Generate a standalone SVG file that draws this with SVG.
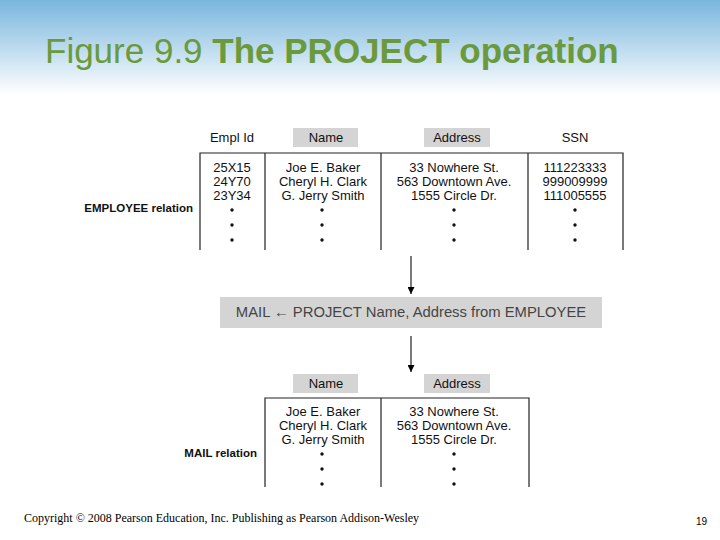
<svg xmlns="http://www.w3.org/2000/svg" width="720" height="540" viewBox="0 0 720 540">
<defs>
<linearGradient id="bg" x1="0" y1="0" x2="0" y2="1"><stop offset="0" stop-color="#79b6dd"/><stop offset="1" stop-color="#ffffff"/></linearGradient>
<marker id="ah" viewBox="0 0 10 10" refX="10" refY="5" markerWidth="7" markerHeight="7" orient="auto" markerUnits="userSpaceOnUse"><path d="M0,0 L10,5 L0,10 z" fill="#000"/></marker>
<style>
.t{font-family:"Liberation Sans",Arial,sans-serif;font-size:13px;fill:#111;text-anchor:middle}
.lb{font-family:"Liberation Sans",Arial,sans-serif;font-size:11.5px;font-weight:bold;fill:#111;text-anchor:end}
.hb{fill:#d4d4d4}
.ln{stroke:#222;stroke-width:1.2;fill:none}
.dot{fill:#111}
</style>
</defs>
<rect width="720" height="540" fill="#fff"/>
<rect width="720" height="95" fill="url(#bg)"/>
<text x="45" y="63" font-family="Liberation Sans,Arial,sans-serif" font-size="35" fill="#6a9a3c">Figure 9.9  <tspan font-weight="bold">The PROJECT operation</tspan></text>
<g id="employee">
<rect class="hb" x="293" y="128" width="65" height="19"/>
<rect class="hb" x="424" y="128" width="66" height="19"/>
<text class="t" x="232" y="142">Empl Id</text>
<text class="t" x="326" y="142">Name</text>
<text class="t" x="457" y="142">Address</text>
<text class="t" x="575" y="142">SSN</text>
<path class="ln" d="M200,250 V153 H623 V250 M265,153 V250 M381,153 V250 M528,153 V250"/>
<text class="t" x="232" y="172">25X15</text><text class="t" x="232" y="186">24Y70</text><text class="t" x="232" y="200">23Y34</text>
<text class="t" x="323" y="172">Joe E. Baker</text><text class="t" x="323" y="186">Cheryl H. Clark</text><text class="t" x="323" y="200">G. Jerry Smith</text>
<text class="t" x="454" y="172">33 Nowhere St.</text><text class="t" x="454" y="186">563 Downtown Ave.</text><text class="t" x="454" y="200">1555 Circle Dr.</text>
<text class="t" x="575" y="172">111223333</text><text class="t" x="575" y="186">999009999</text><text class="t" x="575" y="200">111005555</text>
<g class="dot">
<circle cx="232" cy="210" r="1.7"/><circle cx="232" cy="225" r="1.7"/><circle cx="232" cy="240" r="1.7"/>
<circle cx="322" cy="210" r="1.7"/><circle cx="322" cy="225" r="1.7"/><circle cx="322" cy="240" r="1.7"/>
<circle cx="454" cy="210" r="1.7"/><circle cx="454" cy="225" r="1.7"/><circle cx="454" cy="240" r="1.7"/>
<circle cx="575" cy="210" r="1.7"/><circle cx="575" cy="225" r="1.7"/><circle cx="575" cy="240" r="1.7"/>
</g>
<text class="lb" x="193" y="212">EMPLOYEE relation</text>
</g>
<g id="operation">
<rect class="hb" x="220" y="297" width="382" height="31"/>
<text class="t" x="411" y="317" style="font-size:14.8px;fill:#444">MAIL ← PROJECT Name, Address from EMPLOYEE</text>
</g>
<g id="mail">
<rect class="hb" x="293" y="374" width="65" height="19"/>
<rect class="hb" x="424" y="374" width="66" height="19"/>
<text class="t" x="326" y="388">Name</text>
<text class="t" x="457" y="388">Address</text>
<path class="ln" d="M265,487 V398 H529 V487 M381,398 V487"/>
<text class="t" x="323" y="416">Joe E. Baker</text><text class="t" x="323" y="430">Cheryl H. Clark</text><text class="t" x="323" y="444">G. Jerry Smith</text>
<text class="t" x="454" y="416">33 Nowhere St.</text><text class="t" x="454" y="430">563 Downtown Ave.</text><text class="t" x="454" y="444">1555 Circle Dr.</text>
<g class="dot">
<circle cx="322" cy="454" r="1.7"/><circle cx="322" cy="469" r="1.7"/><circle cx="322" cy="484" r="1.7"/>
<circle cx="454" cy="454" r="1.7"/><circle cx="454" cy="469" r="1.7"/><circle cx="454" cy="484" r="1.7"/>
</g>
<text class="lb" x="257" y="457">MAIL relation</text>
</g>
<g id="connectors">
<line class="ln" x1="411" y1="256" x2="411" y2="294" marker-end="url(#ah)"/>
<line class="ln" x1="411" y1="336" x2="411" y2="372" marker-end="url(#ah)"/>
</g>
<text x="24" y="522" font-family="Liberation Serif,Times New Roman,serif" font-size="12" fill="#000">Copyright © 2008 Pearson Education, Inc. Publishing as Pearson Addison-Wesley</text>
<text x="707" y="525" font-family="Liberation Sans,Arial,sans-serif" font-size="10" fill="#000" text-anchor="end">19</text>
</svg>
